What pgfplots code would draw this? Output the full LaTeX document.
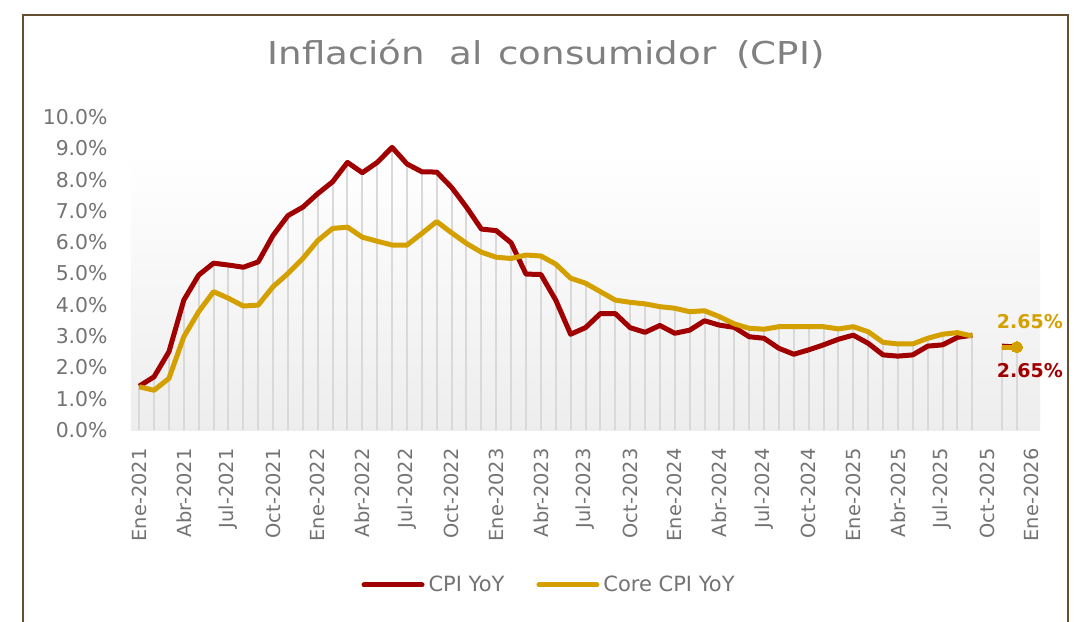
\documentclass[border=0pt]{standalone}
\usepackage{fontspec}
\setmainfont{DejaVu Sans}
\newfontfamily\titlefont{DejaVu Sans}[FakeStretch=1.18]
\usepackage{pgfplots}
\pgfplotsset{compat=1.18}
\usepackage{pgfplotstable}
\definecolor{cpired}{RGB}{160,0,0}
\definecolor{coregold}{RGB}{212,160,0}
\definecolor{txtgray}{RGB}{115,115,115}
\definecolor{titlegray}{RGB}{128,128,128}
\definecolor{framebrown}{RGB}{100,80,48}

\pgfplotstableread{
i cpi core
0 1.40 1.38
1 1.70 1.27
2 2.50 1.65
3 4.15 2.98
4 4.95 3.78
5 5.33 4.42
6 5.27 4.21
7 5.20 3.96
8 5.37 3.99
9 6.22 4.58
10 6.85 5.00
11 7.12 5.48
12 7.55 6.05
13 7.93 6.44
14 8.55 6.48
15 8.22 6.16
16 8.55 6.03
17 9.03 5.91
18 8.50 5.91
19 8.25 6.28
20 8.24 6.66
21 7.75 6.30
22 7.12 5.96
23 6.42 5.68
24 6.37 5.52
25 5.98 5.48
26 4.98 5.59
27 4.97 5.56
28 4.15 5.30
29 3.06 4.85
30 3.27 4.69
31 3.72 4.42
32 3.72 4.15
33 3.27 4.08
34 3.12 4.03
35 3.34 3.94
36 3.09 3.89
37 3.19 3.78
38 3.49 3.81
39 3.35 3.62
40 3.28 3.39
41 2.98 3.25
42 2.93 3.22
43 2.61 3.30
44 2.42 3.30
45 2.56 3.30
46 2.72 3.30
47 2.90 3.23
48 3.03 3.30
49 2.77 3.14
50 2.40 2.80
51 2.36 2.75
52 2.40 2.75
53 2.68 2.93
54 2.72 3.06
55 2.96 3.11
56 3.03 3.00
}\datatable

\pgfplotstableread{
i cpi core
58 2.68 2.65
59 2.65 2.65
}\lasttable

\begin{document}
\begin{tikzpicture}
\useasboundingbox (-65.5pt,-95.5pt) rectangle (472.5pt,215pt);
\fill[white] (-65.5pt,-95.5pt) rectangle (472.5pt,215pt);
\draw[framebrown, line width=1.2pt] (-54pt,-110pt) -- (-54pt,207.5pt) -- (468.5pt,207.5pt) -- (468.5pt,-110pt);
\node[anchor=base, text=titlegray, font=\titlefont\fontsize{15.75pt}{18pt}\selectfont] at (207.5pt,182.5pt) {Inflación\hspace{12pt}al\hspace{8pt}consumidor\hspace{10pt}(CPI)};
\begin{axis}[
  at={(0pt,0pt)}, anchor=south west,
  scale only axis, width=454.5pt, height=156.5pt,
  xmin=-0.55, xmax=60.55, ymin=0, ymax=10,
  clip=false,
  xtick={0,3,...,60},
  xticklabels={Ene-2021,Abr-2021,Jul-2021,Oct-2021,Ene-2022,Abr-2022,Jul-2022,Oct-2022,Ene-2023,Abr-2023,Jul-2023,Oct-2023,Ene-2024,Abr-2024,Jul-2024,Oct-2024,Ene-2025,Abr-2025,Jul-2025,Oct-2025,Ene-2026},
  ytick={0,1,...,10},
  yticklabel={\pgfmathprintnumber[fixed,fixed zerofill,precision=1]{\tick}\%},
  /pgf/number format/assume math mode=true,
  tick style={draw=none},
  axis x line*=bottom, axis y line*=left,
  x axis line style={draw=black!15, line width=1pt, -},
  y axis line style={draw=none},
  ticklabel style={text=txtgray},
  xticklabel style={rotate=90, anchor=east, inner sep=0pt, font=\fontsize{9.7pt}{11pt}\selectfont},
  xticklabel shift=9pt,
  yticklabel style={anchor=east, inner sep=0pt, font=\fontsize{10.2pt}{12pt}\selectfont},
  yticklabel shift=11.5pt,
  legend style={at={(0.461,-0.495)}, anchor=center, draw=none, fill=none,
    legend columns=2, font=\fontsize{10.5pt}{12pt}\selectfont, text=txtgray,
    /tikz/every even column/.append style={column sep=14pt}},
  legend image code/.code={\draw[#1, line width=2.5pt, line cap=round] (0pt,0pt) -- (29pt,0pt);},
]
\fill[top color=white, bottom color=black!7, draw=none] (axis cs:-0.55,0) rectangle (axis cs:60.55,8.85);
\addplot[ycomb, draw=black!15, line width=1pt, no markers, forget plot] table[x=i, y=cpi] {\datatable};
\addplot[ycomb, draw=black!15, line width=1pt, no markers, forget plot] table[x=i, y=core] {\datatable};
\addplot[ycomb, draw=black!15, line width=1pt, no markers, forget plot] table[x=i, y=cpi] {\lasttable};
\addplot[cpired, line width=2.5pt, line join=round, no markers] table[x=i, y=cpi] {\datatable};
\addlegendentry{CPI YoY}
\addplot[coregold, line width=2.5pt, line join=round, no markers] table[x=i, y=core] {\datatable};
\addlegendentry{Core CPI YoY}
\addplot[cpired, line width=2.5pt, line join=round, no markers, forget plot] table[x=i, y=cpi] {\lasttable}
  node[pos=1, anchor=center, xshift=6.5pt, yshift=-12pt, text=cpired, font=\bfseries\fontsize{9.5pt}{11pt}\selectfont] {2.65\%};
\addplot[coregold, line width=2.5pt, line join=round, forget plot, mark=*, mark indices={2}, mark size=2.8pt, mark options={fill=coregold, draw=coregold, line width=0pt}] table[x=i, y=core] {\lasttable}
  node[pos=1, anchor=center, xshift=6.5pt, yshift=12.5pt, text=coregold, font=\bfseries\fontsize{9.5pt}{11pt}\selectfont] {2.65\%};
\end{axis}
\end{tikzpicture}
\end{document}
